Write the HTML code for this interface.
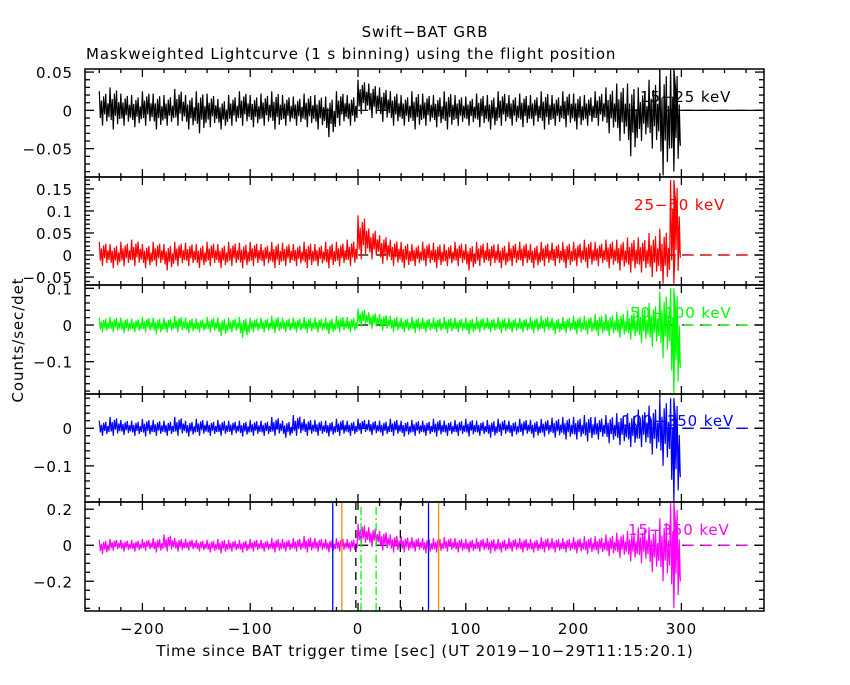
<!DOCTYPE html>
<html><head><meta charset="utf-8">
<style>
body{margin:0;background:#fff;}
svg text{font-family:"DejaVu Sans","Liberation Sans",sans-serif;letter-spacing:0.9px;}
</style></head>
<body>
<svg id="chart" width="850" height="680" xmlns="http://www.w3.org/2000/svg">
<rect width="850" height="680" fill="#fff"/>
<text x="425" y="37" font-size="15" text-anchor="middle">Swift−BAT GRB</text>
<text x="86" y="59" font-size="15">Maskweighted Lightcurve (1 s binning) using the flight position</text>
<text transform="translate(23,340) rotate(-90)" font-size="15" text-anchor="middle">Counts/sec/det</text>
<text x="425" y="656" font-size="15" text-anchor="middle">Time since BAT trigger time [sec] (UT 2019−10−29T11:15:20.1)</text>
<g id="plots"></g>
</svg>
<script>
// time bins (start of each 10 s bin)
const binStart = -240, binStep = 10;
const xTicks = [-200, -100, 0, 100, 200, 300];
// panel 1: 15-25 keV
const hi1 = [0.025,0.03,0.022,0.02,0.025,0.022,0.02,0.028,0.02,0.025,0.022,0.015,0.02,0.025,0.02,0.022,0.025,0.02,0.018,0.022,0.02,0.018,0.025,0.02,0.04,0.035,0.03,0.025,0.02,0.025,0.022,0.02,0.025,0.02,0.018,0.022,0.02,0.025,0.02,0.022,0.02,0.025,0.02,0.025,0.022,0.02,0.025,0.03,0.035,0.035,0.03,0.04,0.055,0.055];
const lo1 = [-0.02,-0.025,-0.02,-0.022,-0.02,-0.025,-0.02,-0.02,-0.025,-0.03,-0.022,-0.025,-0.02,-0.02,-0.022,-0.02,-0.025,-0.02,-0.02,-0.022,-0.025,-0.035,-0.02,-0.02,-0.005,-0.01,-0.015,-0.02,-0.02,-0.025,-0.02,-0.022,-0.025,-0.02,-0.02,-0.022,-0.025,-0.02,-0.02,-0.022,-0.02,-0.025,-0.02,-0.022,-0.025,-0.02,-0.02,-0.03,-0.04,-0.06,-0.04,-0.05,-0.085,-0.08];
// panel 2: 25-50 keV
const hi2 = [0.03,0.025,0.03,0.035,0.025,0.03,0.025,0.03,0.028,0.025,0.03,0.025,0.03,0.028,0.03,0.025,0.03,0.028,0.025,0.03,0.025,0.03,0.03,0.035,0.09,0.06,0.045,0.035,0.03,0.025,0.03,0.028,0.025,0.03,0.025,0.03,0.028,0.025,0.03,0.03,0.025,0.03,0.028,0.03,0.03,0.035,0.03,0.035,0.035,0.04,0.04,0.05,0.06,0.17];
const lo2 = [-0.025,-0.03,-0.025,-0.025,-0.03,-0.025,-0.035,-0.025,-0.025,-0.03,-0.025,-0.03,-0.025,-0.03,-0.025,-0.025,-0.03,-0.025,-0.025,-0.03,-0.025,-0.03,-0.025,-0.025,-0.01,-0.01,-0.02,-0.025,-0.03,-0.025,-0.025,-0.03,-0.025,-0.025,-0.035,-0.025,-0.025,-0.03,-0.025,-0.025,-0.03,-0.025,-0.025,-0.03,-0.025,-0.03,-0.025,-0.03,-0.035,-0.04,-0.04,-0.05,-0.065,-0.065];
// panel 3: 50-100 keV
const hi3 = [0.02,0.022,0.02,0.018,0.022,0.02,0.02,0.025,0.02,0.018,0.022,0.02,0.02,0.022,0.02,0.02,0.025,0.02,0.02,0.022,0.02,0.02,0.025,0.022,0.045,0.035,0.03,0.025,0.02,0.022,0.02,0.02,0.022,0.02,0.02,0.022,0.02,0.022,0.02,0.02,0.022,0.025,0.02,0.022,0.025,0.025,0.03,0.03,0.035,0.04,0.05,0.06,0.09,0.1];
const lo3 = [-0.02,-0.02,-0.022,-0.02,-0.02,-0.025,-0.02,-0.02,-0.022,-0.02,-0.02,-0.03,-0.02,-0.035,-0.02,-0.02,-0.022,-0.02,-0.02,-0.022,-0.02,-0.025,-0.02,-0.02,-0.005,-0.01,-0.015,-0.02,-0.02,-0.022,-0.02,-0.02,-0.022,-0.02,-0.025,-0.02,-0.02,-0.022,-0.02,-0.02,-0.022,-0.02,-0.025,-0.022,-0.025,-0.025,-0.03,-0.03,-0.035,-0.04,-0.05,-0.06,-0.09,-0.19];
// panel 4: 100-350 keV
const hi4 = [0.02,0.03,0.022,0.02,0.025,0.022,0.02,0.03,0.02,0.025,0.02,0.022,0.02,0.02,0.022,0.02,0.03,0.02,0.035,0.025,0.022,0.02,0.025,0.02,0.025,0.022,0.02,0.025,0.02,0.022,0.02,0.025,0.02,0.022,0.025,0.02,0.022,0.025,0.02,0.025,0.022,0.025,0.028,0.03,0.03,0.035,0.03,0.035,0.04,0.04,0.05,0.06,0.08,0.08];
const lo4 = [-0.02,-0.02,-0.018,-0.02,-0.022,-0.02,-0.02,-0.02,-0.022,-0.02,-0.02,-0.02,-0.018,-0.022,-0.02,-0.02,-0.02,-0.025,-0.02,-0.02,-0.02,-0.022,-0.02,-0.02,-0.015,-0.018,-0.02,-0.02,-0.022,-0.02,-0.02,-0.022,-0.02,-0.02,-0.022,-0.02,-0.025,-0.02,-0.022,-0.02,-0.025,-0.022,-0.025,-0.03,-0.03,-0.035,-0.03,-0.04,-0.045,-0.05,-0.05,-0.07,-0.1,-0.2];
// panel 5: 15-350 keV
const hi5 = [0.03,0.035,0.03,0.03,0.035,0.04,0.06,0.04,0.035,0.03,0.03,0.035,0.03,0.03,0.035,0.03,0.04,0.035,0.04,0.05,0.04,0.035,0.04,0.035,0.12,0.1,0.08,0.06,0.05,0.045,0.04,0.04,0.045,0.04,0.035,0.04,0.04,0.035,0.04,0.04,0.035,0.045,0.04,0.04,0.045,0.05,0.05,0.06,0.07,0.08,0.1,0.1,0.15,0.24];
const lo5 = [-0.05,-0.03,-0.035,-0.035,-0.03,-0.04,-0.035,-0.035,-0.03,-0.035,-0.04,-0.045,-0.035,-0.04,-0.035,-0.035,-0.04,-0.035,-0.035,-0.04,-0.035,-0.04,-0.035,-0.035,0.0,-0.01,-0.03,-0.04,-0.04,-0.035,-0.045,-0.04,-0.035,-0.04,-0.04,-0.035,-0.045,-0.04,-0.035,-0.04,-0.04,-0.04,-0.04,-0.04,-0.045,-0.05,-0.05,-0.06,-0.07,-0.09,-0.1,-0.15,-0.2,-0.35];
const labels = ["15−25 keV","25−50 keV","50−100 keV","100−350 keV","15−350 keV"];
const yLabels1 = [0.05,0,-0.05], yLabels2 = [0.15,0.1,0.05,0,-0.05], yLabels3 = [0.1,0,-0.1], yLabels4 = [0,-0.1], yLabels5 = [0.2,0,-0.2];
const markerTimes = [-23.4,-15,-2,2.8,16.8,39.3,65.4,74.8];

const NS="http://www.w3.org/2000/svg";
const X0=85, X1=764, XZ=358, XS=1.078;
function xs(t){return XZ+t*XS;}
// fixed texture pattern within each bin (visual jitter shape, not data)
const texture=[1,-0.55,0.45,-1,0.7,-0.35,0.85,-0.75,0.3,-0.5];
const panels=[
 {top:69,bot:177,ymax:0.054,ymin:-0.087,hi:hi1,lo:lo1,col:"#000",lab:yLabels1,minor:0.01,lx:640,ly:102},
 {top:177,bot:285,ymax:0.177,ymin:-0.068,hi:hi2,lo:lo2,col:"#f00",lab:yLabels2,minor:0.01,lx:634,ly:210},
 {top:285,bot:394,ymax:0.109,ymin:-0.188,hi:hi3,lo:lo3,col:"#0f0",lab:yLabels3,minor:0.02,lx:630,ly:318},
 {top:394,bot:502,ymax:0.091,ymin:-0.196,hi:hi4,lo:lo4,col:"#00f",lab:yLabels4,minor:0.02,lx:622,ly:426},
 {top:502,bot:611,ymax:0.24,ymin:-0.365,hi:hi5,lo:lo5,col:"#f0f",lab:yLabels5,minor:0.05,lx:628,ly:535}
];
const g=document.getElementById('plots');
function mk(tag,attrs,parent){const e=document.createElementNS(NS,tag);for(const k in attrs)e.setAttribute(k,attrs[k]);(parent||g).appendChild(e);return e;}
function fmt(v){if(v===0)return "0";return (v<0?"−":"")+String(Math.abs(v));}
panels.forEach((p,i)=>{
  const ys=v=>p.bot-(v-p.ymin)/(p.ymax-p.ymin)*(p.bot-p.top);
  const pg=mk('g',{});
  
  
  const clipId='c'+i;
  const cp=mk('clipPath',{id:clipId},pg);
  mk('rect',{x:X0,y:p.top,width:X1-X0,height:p.bot-p.top},cp);
  const zl=mk('line',{x1:xs(-100),x2:xs(375),y1:ys(0),y2:ys(0),stroke:"#000","stroke-width":1.3,"stroke-dasharray":"10,8"},pg);
  
  
  let pts=[];
  p.hi.forEach((h,k)=>{
    const t=binStart+k*binStep;const l=p.lo[k];const mid=(h+l)/2;
    texture.forEach((f,j)=>{
      const v=f>0?mid+(h-mid)*f:mid+(mid-l)*f;
      pts.push(xs(t+j)+","+ys(v));
    });
  });
  const tEnd=binStart+p.hi.length*binStep;
  pts.push(xs(tEnd-7)+","+ys(p.hi[p.hi.length-1]));
  pts.push(xs(tEnd-7)+","+ys(p.lo[p.lo.length-1]));
  pts.push(xs(tEnd-6)+","+ys(0));
  const s=mk('polyline',{points:pts.join(" "),fill:"none",stroke:p.col,"stroke-width":1.2,"clip-path":"url(#"+clipId+")"},pg);
  
  
  const tail=mk('line',{x1:xs(tEnd-6),x2:xs(375),y1:ys(0),y2:ys(0),stroke:p.col,"stroke-width":1.3,"stroke-dasharray":i===0?"none":"10,8","stroke-dashoffset":9},pg);
  
  
  const lt=mk('text',{x:p.lx,y:p.ly,"font-size":15,fill:p.col},pg);
  lt.textContent=labels[i];
  
  
  if(i===4){
    const mcols=["#00f","#f80","#000","#0f0","#0f0","#000","#00f","#f80"];
    const mdash=["none","none","8,6","8,3,2,3","8,3,2,3","8,6","none","none"];
    markerTimes.forEach((t,k)=>{
      const ml=mk('line',{x1:xs(t),x2:xs(t),y1:(k===3||k===4)?p.top+5:p.top,y2:p.bot,stroke:mcols[k],"stroke-width":1.3,"stroke-dasharray":mdash[k]},pg);
      
      
    });
  }
  const fr=mk('rect',{x:X0,y:p.top,width:X1-X0,height:p.bot-p.top,fill:"none",stroke:"#000","stroke-width":1.5},pg);
  
  
  for(let t=-240;t<=380;t+=20){
    const major=(t%100===0);const L=major?8:4;const x=xs(t);
    if(x<X0||x>X1)continue;
    mk('line',{x1:x,x2:x,y1:p.top,y2:p.top+L,stroke:"#000","stroke-width":1.3},pg);
    mk('line',{x1:x,x2:x,y1:p.bot,y2:p.bot-L,stroke:"#000","stroke-width":1.3},pg);
  }
  const step=p.minor;
  for(let v=Math.ceil(p.ymin/step)*step; v<=p.ymax+1e-9; v+=step){
    const vv=Math.round(v/step)*step;const y=ys(vv);
    const major=p.lab.some(l=>Math.abs(l-vv)<1e-9);const L=major?9:5;
    mk('line',{x1:X0,x2:X0+L,y1:y,y2:y,stroke:"#000","stroke-width":1.3},pg);
    mk('line',{x1:X1,x2:X1-L,y1:y,y2:y,stroke:"#000","stroke-width":1.3},pg);
  }
  p.lab.forEach(v=>{
    const t=mk('text',{x:73,y:ys(v)+6,"font-size":15,"text-anchor":"end"},pg);
    t.textContent=fmt(v);
    
    
  });
});
xTicks.forEach(t=>{
  const e=mk('text',{x:xs(t),y:634,"font-size":15,"text-anchor":"middle"});
  e.textContent=fmt(t);
  
  
});
</script>
</body></html>
